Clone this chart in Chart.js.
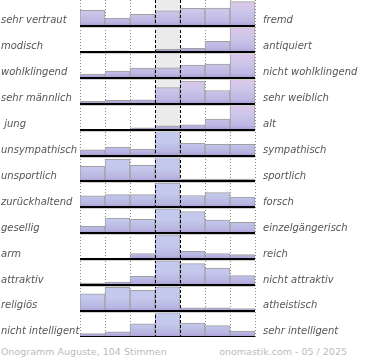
<!DOCTYPE html>
<html lang="de">
<head>
<meta charset="utf-8">
<title>Onogramm Auguste</title>
<script src="https://cdn.jsdelivr.net/npm/chart.js@4.4.1/dist/chart.umd.min.js"></script>
<style>
  body { margin: 0; background: #fff; width: 370px; height: 360px; position: relative; overflow: hidden; }
  #grafico { position: absolute; left: 0; top: 0; }
  .rodape { position: absolute; top: 346px; font: 9.5px "DejaVu Sans", sans-serif; color: #bbb; white-space: nowrap; }
</style>
</head>
<body>
<canvas id="grafico" width="370" height="337"></canvas>
<div class="rodape" style="left:1px">Onogramm Auguste, 104 Stimmen</div>
<div class="rodape" style="right:23px">onomastik.com - 05 / 2025</div>
<script>
// -------------------------
// Dados (altura das barras em % da linha)
// -------------------------
const bins = ["1", "2", "3", "4", "5", "6", "7"];

const rotulosEsquerda = ["sehr vertraut", "modisch", "wohlklingend", "sehr männlich", " jung", "unsympathisch",
  "unsportlich", "zurückhaltend", "gesellig", "arm", "attraktiv", "religiös", "nicht intelligent"];
const rotulosDireita = ["fremd", "antiquiert", "nicht wohlklingend", "sehr weiblich", "alt", "sympathisch",
  "sportlich", "forsch", "einzelgängerisch", "reich", "nicht attraktiv", "atheistisch", "sehr intelligent"];

const vertraut = [60, 30, 45, 58, 68, 69, 94];
const modisch = [0, 4, 0, 10, 14, 41, 94];
const wohlklingend = [14, 26, 37, 38, 49, 53, 94];
const maennlich = [9, 13, 15, 62, 87, 51, 94];
const jung = [0, 0, 7, 15, 18, 41, 94];
const sympathisch = [22, 33, 25, 94, 47, 43, 43];
const sportlich = [58, 85, 62, 94, 9, 9, 9];
const forsch = [45, 49, 49, 94, 46, 57, 40];
const gesellig = [27, 59, 54, 94, 84, 51, 42];
const reich = [4, 4, 22, 94, 30, 22, 18];
const attraktiv = [8, 12, 34, 94, 83, 66, 37];
const religioes = [67, 92, 80, 94, 13, 13, 10];
const intelligent = [13, 20, 51, 94, 54, 44, 23];

const linhas = [vertraut, modisch, wohlklingend, maennlich, jung, sympathisch, sportlich,
  forsch, gesellig, reich, attraktiv, religioes, intelligent];

// -------------------------
// Estilos
// -------------------------
const coresRosa = [[0, "#e0c8e8"], [0.45, "#cdc6ea"], [0.85, "#bcb7e3"], [1, "#a89cd2"]];
const coresAzul = [[0, "#c4caee"], [0.5, "#c3c8ec"], [0.85, "#b8b5e2"], [1, "#a89cd2"]];
const fonteRotulo = { family: "DejaVu Sans", size: 10, style: "italic" };
const nLinhas = linhas.length;

function baseLinha(i) {
  return nLinhas - 1 - i;
}

function gradienteLinha(chart, i) {
  const y = chart.scales.y;
  const topo = y.getPixelForValue(baseLinha(i) + 1);
  const fundo = y.getPixelForValue(baseLinha(i));
  const g = chart.ctx.createLinearGradient(0, topo, 0, fundo);
  (i < 5 ? coresRosa : coresAzul).forEach(([p, c]) => g.addColorStop(p, c));
  return g;
}

// -------------------------
// Grade, coluna do meio e linhas de base
// -------------------------
const pluginGrade = {
  id: "grade",
  beforeDatasetsDraw(chart) {
    const { ctx, chartArea: a, scales: { x } } = chart;
    const esq = x.getPixelForValue(2.5);
    const dir = x.getPixelForValue(3.5);
    ctx.save();
    ctx.fillStyle = "#ebebeb";
    ctx.fillRect(esq, a.top, dir - esq, a.bottom - a.top);
    ctx.strokeStyle = "#888";
    ctx.lineWidth = 1;
    ctx.setLineDash([1, 2]);
    for (let k = 0; k <= bins.length; k++) {
      if (k === 3 || k === 4) continue;
      const px = Math.round(x.getPixelForValue(k - 0.5)) + 0.5;
      ctx.beginPath();
      ctx.moveTo(px, a.top);
      ctx.lineTo(px, a.bottom);
      ctx.stroke();
    }
    ctx.restore();
  },
  afterDatasetsDraw(chart) {
    const { ctx, chartArea: a, scales: { x, y } } = chart;
    const x0 = x.getPixelForValue(-0.5);
    const x1 = x.getPixelForValue(bins.length - 0.5);
    ctx.save();
    // linhas tracejadas da coluna do meio
    ctx.strokeStyle = "#000";
    ctx.lineWidth = 1;
    ctx.setLineDash([3, 2]);
    [3, 4].forEach(k => {
      const px = Math.round(x.getPixelForValue(k - 0.5)) + 0.5;
      ctx.beginPath();
      ctx.moveTo(px, a.top);
      ctx.lineTo(px, a.bottom);
      ctx.stroke();
    });
    ctx.setLineDash([]);
    // linha de base de cada par
    linhas.forEach((_, i) => {
      const py = Math.round(y.getPixelForValue(baseLinha(i)));
      ctx.strokeStyle = "#000";
      ctx.lineWidth = 2;
      ctx.beginPath();
      ctx.moveTo(x0, py);
      ctx.lineTo(x1, py);
      ctx.stroke();
      ctx.strokeStyle = "#cfcfcf";
      ctx.lineWidth = 1;
      ctx.beginPath();
      ctx.moveTo(x0, py + 1.5);
      ctx.lineTo(x1, py + 1.5);
      ctx.stroke();
    });
    ctx.restore();
  }
};

// -------------------------
// Datasets
// -------------------------
const datasets = linhas.map((valores, i) => ({
  label: rotulosEsquerda[i].trim() + " / " + rotulosDireita[i],
  data: valores.map(v => v > 0 ? [baseLinha(i), baseLinha(i) + v / 100] : null),
  backgroundColor: ctx => ctx.chart.chartArea ? gradienteLinha(ctx.chart, i) : "#c4c8ec",
  borderColor: "#a0a0a0",
  borderWidth: 1,
  borderSkipped: "start",
  barPercentage: 1,
  categoryPercentage: 1,
  grouped: false
}));

function ticksLinhas(scale) {
  scale.ticks = linhas.map((_, i) => ({ value: baseLinha(i) + 0.2 }));
}

function larguraFixa(w) {
  return scale => {
    scale.width = w;
    scale.paddingTop = 0;
    scale.paddingBottom = 0;
  };
}

new Chart(document.getElementById("grafico"), {
  type: "bar",
  data: { labels: bins, datasets },
  options: {
    responsive: false,
    animation: false,
    layout: { padding: { left: 1, top: 0, right: 0, bottom: 0 } },
    plugins: { legend: { display: false }, tooltip: { enabled: false } },
    scales: {
      x: { display: false },
      y: {
        position: "left",
        min: 0,
        max: nLinhas,
        grid: { display: false },
        border: { display: false },
        afterBuildTicks: ticksLinhas,
        afterFit: larguraFixa(79),
        ticks: {
          autoSkip: false,
          crossAlign: "far",
          padding: 0,
          color: "#555",
          font: fonteRotulo,
          callback: (v, idx) => rotulosEsquerda[idx]
        }
      },
      y2: {
        position: "right",
        display: true,
        min: 0,
        max: nLinhas,
        grid: { display: false, drawTicks: false },
        border: { display: false },
        afterBuildTicks: ticksLinhas,
        afterFit: larguraFixa(115),
        ticks: {
          autoSkip: false,
          crossAlign: "near",
          padding: 8,
          color: "#555",
          font: fonteRotulo,
          callback: (v, idx) => rotulosDireita[idx]
        }
      }
    }
  },
  plugins: [pluginGrade]
});
</script>
</body>
</html>
